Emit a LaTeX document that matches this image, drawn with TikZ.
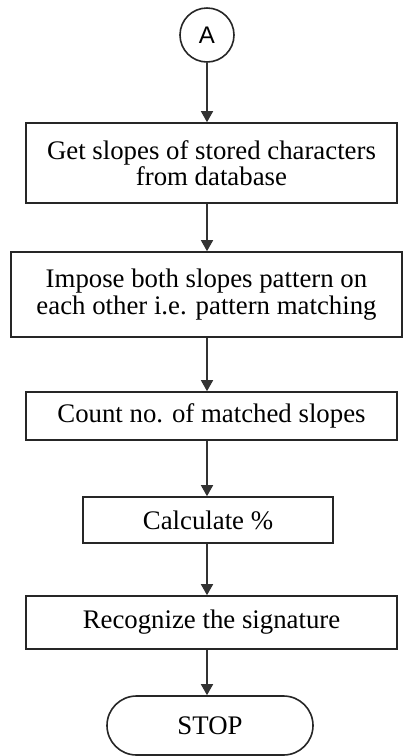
\documentclass[tikz,border=0pt]{standalone}
\usepackage{fontspec}
\setmainfont{Liberation Serif}
\newfontfamily\conFont{Liberation Sans}
\usetikzlibrary{arrows.meta,shapes.misc}

\tikzset{
	stepbox/.style={draw=black!85, line width=1.6pt, fill=white, align=center, inner sep=0pt, font=\fontsize{26.8}{26.5}\selectfont},
	flowline/.style={draw=black!80, line width=1.5pt, -{Triangle[width=12pt,length=11pt]}},
}

\begin{document}
\begin{tikzpicture}[x=1pt,y=1pt,yscale=-1]
		\useasboundingbox (0,0) rectangle (404,756);
		
		%Shape: Circle [connector A]
		\node[circle, draw=black!85, line width=1.6pt, minimum size=54pt, inner sep=0pt, font=\conFont\fontsize{24}{24}\selectfont] (conA) at (207,35) {A};
		%Shape: Rectangle [get slopes]
		\node[stepbox, minimum width=371pt, minimum height=80pt] (getSlopes) at (211.5,163) {Get slopes of stored characters\\from database};
		%Shape: Rectangle [impose]
		\node[stepbox, minimum width=391pt, minimum height=85pt] (impose) at (206.5,294.5) {Impose both slopes pattern on\\each other i.e. pattern matching};
		%Shape: Rectangle [count]
		\node[stepbox, minimum width=371pt, minimum height=48pt] (countSlopes) at (211.5,416) {Count no. of matched slopes};
		%Shape: Rectangle [calculate]
		\node[stepbox, minimum width=250pt, minimum height=46pt] (calcPct) at (208,520) {Calculate \%};
		%Shape: Rectangle [recognize]
		\node[stepbox, minimum width=371pt, minimum height=53pt] (recognize) at (211.5,622.5) {Recognize the signature};
		%Shape: Terminal [stop]
		\node[stepbox, rounded rectangle, minimum width=206pt, minimum height=59pt] (stop) at (210,725.5) {STOP};
		
		%Straight Lines
		\draw[flowline] (conA.south) -- (conA.south |- getSlopes.north);
		\draw[flowline] (conA.south |- getSlopes.south) -- (conA.south |- impose.north);
		\draw[flowline] (conA.south |- impose.south) -- (conA.south |- countSlopes.north);
		\draw[flowline] (conA.south |- countSlopes.south) -- (conA.south |- calcPct.north);
		\draw[flowline] (conA.south |- calcPct.south) -- (conA.south |- recognize.north);
		\draw[flowline] (conA.south |- recognize.south) -- (conA.south |- stop.north);
		
\end{tikzpicture}
\end{document}
